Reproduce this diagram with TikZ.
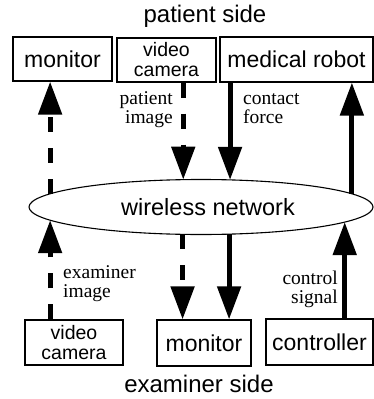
\documentclass[tikz,border=0pt]{standalone}
\usepackage{fontspec}
\setmainfont{Liberation Serif}
\newfontfamily\hv{Liberation Sans}
\usetikzlibrary{arrows.meta,shapes.geometric}
\tikzset{
  box/.style={draw, line width=1.2pt, inner sep=0pt, align=center,
              font=\hv\fontsize{23}{24}\selectfont},
  smallbox/.style={box, font=\hv\fontsize{19.5}{20}\selectfont},
  sig/.style={line width=5pt, -{Triangle[length=33pt,width=23pt]}},
  dsig/.style={sig, dash pattern=on 15pt off 16pt},
  lab/.style={inner sep=0pt, font=\fontsize{19.5}{19}\selectfont},
  title/.style={inner sep=0pt, font=\hv\fontsize{24}{24}\selectfont}
}
\begin{document}
\begin{tikzpicture}[x=1pt,y=-1pt]
\useasboundingbox (0,0) rectangle (374,399);
% titles
\node[title, anchor=base] (tp) at (205,22) {patient side};
\node[title, anchor=base] (te) at (199,392) {examiner side};
% patient side boxes
\node[box, minimum width=99pt, minimum height=44pt] (mon1) at (62.5,59) {monitor};
\node[smallbox, minimum width=99pt, minimum height=44pt] (cam1) at (166.5,60) {video\\camera};
\node[box, minimum width=153pt, minimum height=45pt] (robot) at (296.5,59.5) {medical robot};
% examiner side boxes
\node[smallbox, minimum width=98pt, minimum height=45pt] (cam2) at (74,342.5) {video\\camera};
\node[box, minimum width=94pt, minimum height=46pt] (mon2) at (204,343) {monitor};
\node[box, minimum width=107pt, minimum height=46pt] (ctrl) at (319.5,342) {controller};
% network
\node[draw, ellipse, line width=1.1pt, minimum width=344pt, minimum height=55pt,
      inner sep=0pt, outer sep=0pt,
      label={[title, font=\hv\fontsize{23.5}{24}\selectfont, xshift=7pt]center:wireless network}]
      (net) at (201,207) {};
% connectors
\draw[dsig] (net.185 |- cam2.north) -- (net.185);
\draw[dsig] (net.175) -- (net.175 |- mon1.south);
\draw[dsig] (net.123.3 |- cam1.south) -- (net.123.3);
\draw[dsig] (net.236.7) -- (net.236.7 |- mon2.north);
\draw[sig] (net.43.06 |- robot.south) -- (net.43.06);
\draw[sig] (net.316.94) -- (net.316.94 |- mon2.north);
\draw[sig] (net.354.18 |- ctrl.north) -- (net.354.18);
\draw[sig] (net.5.82) -- (net.5.82 |- robot.south);
% labels (base anchor = baseline of the last line)
\node[lab, anchor=base east, align=right] (lpi) at (173,123) {patient\\image};
\node[lab, anchor=base west, align=left] (lcf) at (243,123) {contact\\force};
\node[lab, anchor=base west, align=left] (lei) at (63,297) {examiner\\image};
\node[lab, anchor=base east, align=right] (lcs) at (338,303) {control\\signal};
\end{tikzpicture}
\end{document}
